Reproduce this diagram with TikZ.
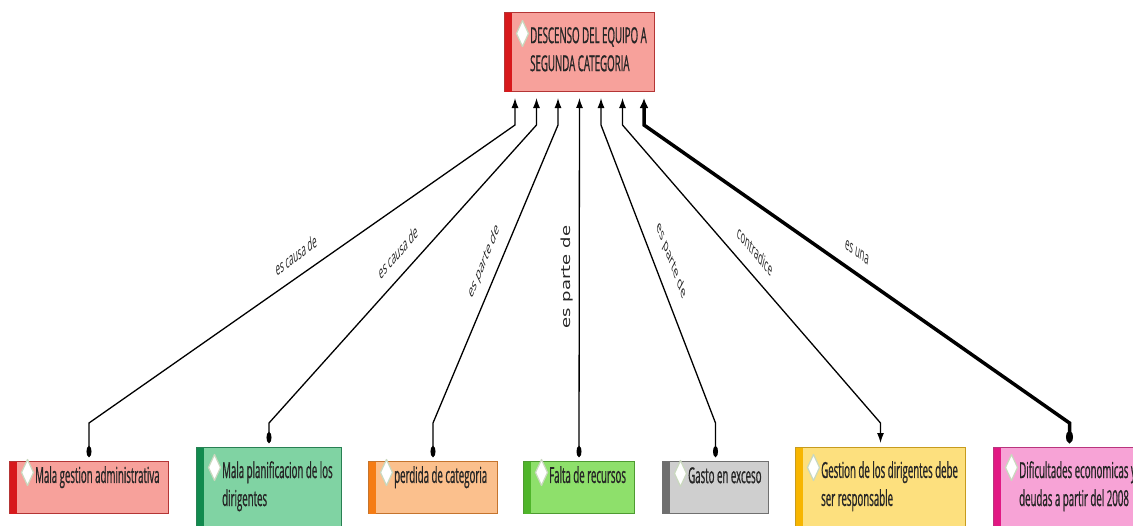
\documentclass[tikz,border=0pt]{standalone}
\usepackage{fontspec}
\setmainfont[FakeStretch=0.44,FakeBold=0.8]{Open Sans}
\newfontfamily\etiqfont{Open Sans}
\newfontfamily\vertfont{DejaVu Sans}
\usetikzlibrary{arrows.meta}
\definecolor{rojo}{HTML}{D7191C}
\definecolor{salmon}{HTML}{F7A19B}
\definecolor{verdeosc}{HTML}{118A4E}
\definecolor{verdeagua}{HTML}{80D3A3}
\definecolor{naranja}{HTML}{F57C14}
\definecolor{durazno}{HTML}{FBC08D}
\definecolor{verde}{HTML}{4FB52A}
\definecolor{verdeclaro}{HTML}{8EE06B}
\definecolor{gris}{HTML}{6F6F6F}
\definecolor{grisclaro}{HTML}{CFCFCF}
\definecolor{ambar}{HTML}{F7B500}
\definecolor{amarillo}{HTML}{FDE07E}
\definecolor{magenta}{HTML}{E11883}
\definecolor{rosa}{HTML}{F7A3D6}
\definecolor{rombogris}{HTML}{C9D8BE}
\tikzset{
  caja/.style={draw, line width=1pt, anchor=north west, inner sep=0pt},
  texto/.style={anchor=north west, inner sep=0pt, align=left,
    font=\fontsize{22}{28}\selectfont, text=black!85},
  rombo/.style={fill=white, draw=rombogris, line width=1.2pt, line join=round},
  con/.style={line width=1.3pt, shorten >=6pt, shorten <=4pt},
  punto/.style={{Ellipse[length=11pt,width=5pt]}-{Latex[length=10pt,width=7pt]}},
  doble/.style={{Latex[length=10pt,width=7pt]}-{Latex[length=10pt,width=7pt]}},
  etiq/.style={font=\etiqfont\fontsize{18}{18}\selectfont, text=black!85,
    inner sep=1pt, xscale=0.44},
  vert/.style={font=\vertfont\fontsize{18}{18}\selectfont, text=black!85,
    inner sep=1pt, xscale=0.7, rotate=90}
}
% concepto: nombre, x, y, ancho, alto, relleno, franja, desplazamiento del texto, texto
\newcommand{\concepto}[9]{%
  \node[caja, fill=#6, draw=#7!70!#6!80!black, minimum width=#4pt, minimum height=#5pt] (#1) at (#2,#3) {};
  \fill[#7] ([shift={(0.5pt,-0.5pt)}]#1.north west) rectangle ([xshift=8pt,yshift=0.5pt]#1.south west);
  \node[texto] (#1-t) at ([xshift=26pt,yshift=-#8pt]#1.north west) {#9};
  \filldraw[rombo] ([xshift=-7.5pt,yshift=-6.5pt]#1-t.north west) ++(-6,0) -- ++(6,-13) -- ++(6,13) -- ++(-6,13) -- cycle;
}
\begin{document}
\begin{tikzpicture}[x=1pt,y=-1pt]
\clip (0,0) rectangle (1133,525);
\fill[white] (0,0) rectangle (1133,525);

% conceptos
\concepto{arriba}{504}{12}{150}{79}{salmon}{rojo}{15}{DESCENSO DEL EQUIPO A\\SEGUNDA CATEGORIA}
\concepto{c1}{9}{461}{159}{52}{salmon}{rojo}{5}{Mala gestion administrativa}
\concepto{c2}{196}{447}{145}{90}{verdeagua}{verdeosc}{14}{Mala planificacion de los\\dirigentes}
\concepto{c3}{368}{461}{129}{52}{durazno}{naranja}{5}{perdida de categoria}
\concepto{c4}{523}{461}{111}{52}{verdeclaro}{verde}{5}{Falta de recursos}
\concepto{c5}{662}{461}{106}{52}{grisclaro}{gris}{6}{Gasto en exceso}
\concepto{c6}{795}{447}{170}{90}{amarillo}{ambar}{14}{Gestion de los dirigentes debe\\ser responsable}
\concepto{c7}{993}{447}{152}{90}{rosa}{magenta}{14}{Dificultades economicas y\\deudas a partir del 2008}

% entradas al concepto de arriba
\coordinate (e1) at ([xshift=-64.5pt]arriba.south);
\coordinate (e2) at ([xshift=-43pt]arriba.south);
\coordinate (e3) at ([xshift=-21.5pt]arriba.south);
\coordinate (e4) at (arriba.south);
\coordinate (e5) at ([xshift=21.5pt]arriba.south);
\coordinate (e6) at ([xshift=43pt]arriba.south);
\coordinate (e7) at ([xshift=64.5pt]arriba.south);

% enlaces
\draw[con, punto] (c1.north) -- (c1.north |- 0,423) -- (e1 |- 0,125) -- (e1);
\draw[con, punto] (c2.north) -- (c2.north |- 0,423) -- (e2 |- 0,125) -- (e2);
\draw[con, punto] (c3.north) -- (c3.north |- 0,423) -- (e3 |- 0,125) -- (e3);
\draw[con, punto] (c4.north) -- (e4);
\draw[con, punto] (c5.north) -- (c5.north |- 0,423) -- (e5 |- 0,125) -- (e5);
\draw[con, doble] (c6.north) -- (c6.north |- 0,423) -- (e6 |- 0,125) -- (e6);
\draw[con, line width=3.5pt, {Ellipse[length=12pt,width=7pt]}-{Latex[length=10pt,width=9pt]}]
  (c7.north) -- (c7.north |- 0,423) -- (e7 |- 0,125) -- (e7);

% etiquetas
\node[etiq, rotate=17.9] (l1) at (296,255) {es causa de};
\node[etiq, rotate=27.3] (l2) at (398,252) {es causa de};
\node[etiq, rotate=47.6] (l3) at (484,262) {es parte de};
\node[vert] (l4) at (567,277) {es parte de};
\node[etiq, rotate=-50.3] (l5) at (671,261) {es parte de};
\node[etiq, rotate=-27.9] (l6) at (755,251) {contradice};
\node[etiq, rotate=-17.9] (l7) at (857,252) {es una};
\end{tikzpicture}
\end{document}
